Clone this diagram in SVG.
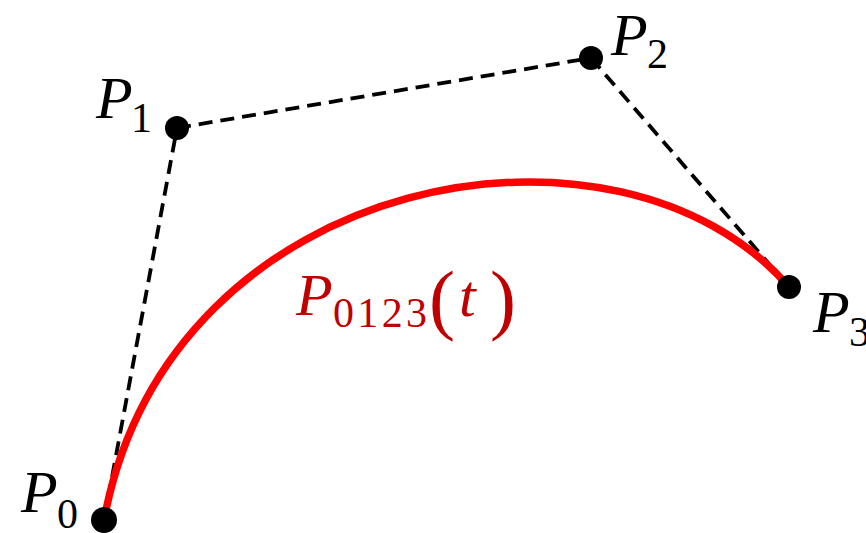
<svg xmlns="http://www.w3.org/2000/svg" width="866" height="533" viewBox="0 0 866 533">
<style>
.dash{fill:none;stroke:#000;stroke-width:3.8;stroke-dasharray:14 8}
.curve{fill:none;stroke:#ff0000;stroke-width:7.5}
.pt{fill:#000}
.it{font-family:"Liberation Serif",serif;font-style:italic;font-size:60px}
.sub{font-family:"Liberation Serif",serif;font-size:42px}
.par{font-family:"Liberation Serif",serif;font-size:78px}
.red{fill:#c00000}
</style>
<rect width="866" height="533" fill="#fff"/>
<g id="connectors">
<path class="dash" d="M104 520 L177 128"/>
<path class="dash" d="M177 128 L591 58"/>
<path class="dash" d="M591 58 L789 287"/>
</g>
<g id="curve">
<path class="curve" d="M104 520 C169.7 167.2 620.7 92.3 789 287"/>
<text class="red"><tspan class="it" x="296" y="315">P</tspan><tspan class="sub" x="333" y="327" textLength="94" lengthAdjust="spacing">0123</tspan><tspan class="par" x="429" y="325">(</tspan><tspan class="it" x="459" y="316">t</tspan><tspan class="par" x="490" y="325">)</tspan></text>
</g>
<g id="P0">
<circle class="pt" cx="104" cy="520" r="13"/>
<text><tspan class="it" x="21" y="512">P</tspan><tspan class="sub" x="57" y="528">0</tspan></text>
</g>
<g id="P1">
<circle class="pt" cx="177" cy="128" r="12"/>
<text><tspan class="it" x="96" y="118">P</tspan><tspan class="sub" x="131" y="132">1</tspan></text>
</g>
<g id="P2">
<circle class="pt" cx="591" cy="58" r="12"/>
<text><tspan class="it" x="611" y="55">P</tspan><tspan class="sub" x="647" y="68">2</tspan></text>
</g>
<g id="P3">
<circle class="pt" cx="789" cy="287" r="12"/>
<text><tspan class="it" x="813" y="332">P</tspan><tspan class="sub" x="849" y="346">3</tspan></text>
</g>
</svg>
